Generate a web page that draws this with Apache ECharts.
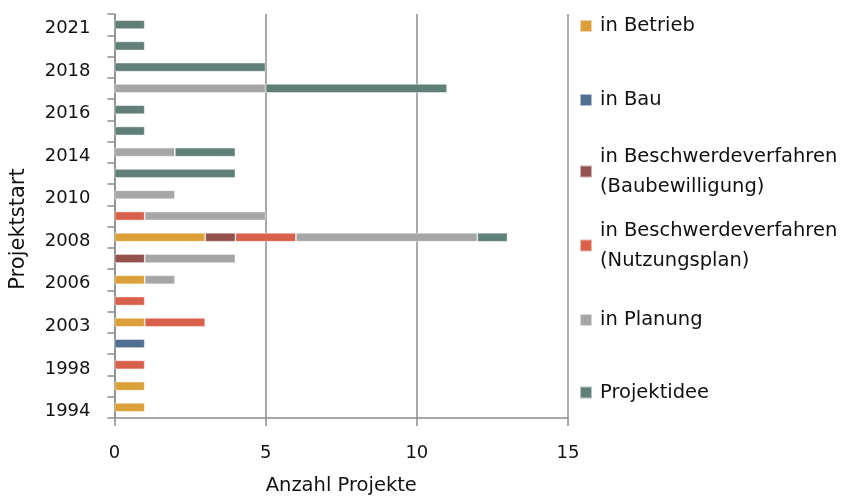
<!DOCTYPE html>
<html>
<head>
<meta charset="utf-8">
<title>Projektstart</title>
<script src="https://cdn.jsdelivr.net/npm/echarts@6/dist/echarts.min.js"></script>
<style>
  html, body { margin: 0; padding: 0; background: #ffffff; }
  #chart { width: 843px; height: 496px; }
</style>
</head>
<body>
<div id="chart"></div>
<script>
// Start year of each project group (bottom to top)
const years = ['1994', '1996', '1998', '2000', '2003', '2005', '2006', '2007', '2008', '2009',
               '2010', '2012', '2014', '2015', '2016', '2017', '2018', '2020', '2021'];

// Number of projects per status and start year
const inBetrieb        = [1, 1, 0, 0, 1, 0, 1, 0, 3, 0, 0, 0, 0, 0, 0, 0, 0, 0, 0];
const inBau            = [0, 0, 0, 1, 0, 0, 0, 0, 0, 0, 0, 0, 0, 0, 0, 0, 0, 0, 0];
const beschwerdeBau    = [0, 0, 0, 0, 0, 0, 0, 1, 1, 0, 0, 0, 0, 0, 0, 0, 0, 0, 0];
const beschwerdeNutz   = [0, 0, 1, 0, 2, 1, 0, 0, 2, 1, 0, 0, 0, 0, 0, 0, 0, 0, 0];
const inPlanung        = [0, 0, 0, 0, 0, 0, 1, 3, 6, 4, 2, 0, 2, 0, 0, 5, 0, 0, 0];
const projektidee      = [0, 0, 0, 0, 0, 0, 0, 0, 1, 0, 0, 4, 2, 1, 1, 6, 5, 1, 1];

const statusNames = [
  'in Betrieb',
  'in Bau',
  'in Beschwerdeverfahren (Baubewilligung)',
  'in Beschwerdeverfahren (Nutzungsplan)',
  'in Planung',
  'Projektidee'
];
const statusValues = [inBetrieb, inBau, beschwerdeBau, beschwerdeNutz, inPlanung, projektidee];
const statusColors = ['#DCA03A', '#4F6F93', '#94524E', '#D9604A', '#A6A6A6', '#5F7F78'];

const FONT = 'DejaVu Sans';
const axisGray = '#8C8C8C';

const series = statusNames.map((name, i) => ({
  name: name,
  type: 'bar',
  stack: 'total',
  barWidth: 9,
  data: statusValues[i].map(v => (v === 0 ? null : v)),
  itemStyle: {
    color: statusColors[i],
    borderColor: 'rgba(255,255,255,0.55)',
    borderWidth: 0.8
  },
  emphasis: { disabled: true }
}));

// One legend block per status, so each entry sits at its own row
const legendRows = [
  { name: statusNames[0], top: 11,    twoLines: false },
  { name: statusNames[1], top: 85,    twoLines: false },
  { name: statusNames[2], top: 126.5, twoLines: true },
  { name: statusNames[3], top: 200.5, twoLines: true },
  { name: statusNames[4], top: 305,   twoLines: false },
  { name: statusNames[5], top: 377.5, twoLines: false }
];

const legends = legendRows.map(row => ({
  data: [row.name],
  orient: 'vertical',
  left: 579,
  top: row.top,
  padding: 0,
  itemWidth: 12,
  itemHeight: 12,
  icon: 'rect',
  selectedMode: false,
  formatter: n => n.replace(' (', '\n('),
  textStyle: {
    fontFamily: FONT,
    fontSize: 19.5,
    color: '#111111',
    lineHeight: 30,
    padding: row.twoLines ? [30, 0, 0, 3] : [0, 0, 0, 3]
  }
}));

const chart = echarts.init(document.getElementById('chart'), null, { renderer: 'canvas' });
chart.setOption({
  animation: false,
  backgroundColor: '#ffffff',
  legend: legends,
  grid: {
    left: 114.5, right: 275, top: 14, bottom: 78,
    containLabel: false,
    outerBoundsMode: 'none'
  },
  xAxis: {
    type: 'value',
    min: 0,
    max: 15,
    interval: 5,
    name: 'Anzahl Projekte',
    nameLocation: 'middle',
    nameGap: 58,
    nameTextStyle: { fontFamily: FONT, fontSize: 19.5, color: '#111111' },
    axisLine: { show: true, lineStyle: { color: axisGray, width: 1.5 } },
    axisTick: { show: true, length: 8, lineStyle: { color: axisGray, width: 1.5 } },
    axisLabel: { margin: 26, fontFamily: FONT, fontSize: 18, color: '#111111' },
    splitLine: { show: true, lineStyle: { color: axisGray, width: 1.5 } }
  },
  yAxis: {
    type: 'category',
    data: years,
    name: 'Projektstart',
    nameLocation: 'middle',
    nameGap: 85,
    nameRotate: 90,
    nameTextStyle: { fontFamily: FONT, fontSize: 21, color: '#111111', padding: [0, 26, 0, 0] },
    axisLine: { show: true, lineStyle: { color: axisGray, width: 1.5 } },
    axisTick: { show: true, interval: 0, length: 7, lineStyle: { color: axisGray, width: 1.5 } },
    axisLabel: {
      interval: 1, margin: 24, fontFamily: FONT, fontSize: 18, color: '#111111',
      verticalAlign: 'top', lineHeight: 8
    },
    splitLine: { show: false }
  },
  series: series
});
</script>
</body>
</html>
